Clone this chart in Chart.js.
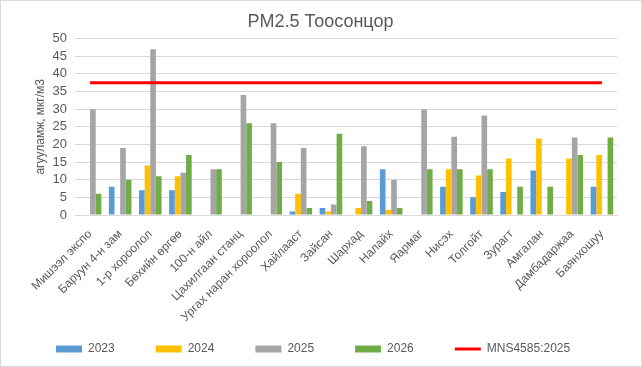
<!DOCTYPE html>
<html>
<head>
<meta charset="utf-8">
<script src="https://cdn.jsdelivr.net/npm/chart.js@4"></script>
<style>
  html, body { margin: 0; padding: 0; background: #fff; }
  #wrap { position: absolute; left: 0; top: 0; width: 642px; height: 367px; box-sizing: border-box; border: 1px solid #d9d9d9; }
  #c { display: block; }
</style>
</head>
<body>
<div id="wrap"><canvas id="c" width="640" height="365"></canvas></div>
<script>
const stations = ['Мишээл экспо', 'Баруун 4-н зам', '1-р хороолол', 'Бөхийн өргөө', '100-н айл', 'Цахилгаан станц',
  'Ургах наран хороолол', 'Хайлааст', 'Зайсан', 'Шархад', 'Налайх', 'Яармаг', 'Нисэх', 'Толгойт', 'Зурагт',
  'Амгалан', 'Дамбадаржаа', 'Баянхошуу'];
const y2023 = [null, 8, 7, 7, null, null, null, 1, 2, null, 13, null, 8, 5, 6.5, 12.6, null, 8];
const y2024 = [null, null, 14, 11, null, null, null, 6, 1, 2, 1.5, null, 13, 11.2, 16, 21.7, 16, 17];
const y2025 = [30, 19, 47, 12, 13, 34, 26, 19, 3, 19.5, 10, 30, 22.2, 28.2, null, null, 22, null];
const y2026 = [6, 10, 11, 17, 13, 26, 15, 2, 23, 4, 2, 13, 13, 13, 8, 8, 17, 22];
const mns = [37.5, 37.5, 37.5, 37.5, 37.5, 37.5, 37.5, 37.5, 37.5, 37.5, 37.5, 37.5, 37.5, 37.5, 37.5, 37.5, 37.5, 37.5];

const txt = '#595959';
const font = '"Liberation Sans", Arial, sans-serif';

function bars(label, data, color) {
  return { type: 'bar', label: label, data: data, backgroundColor: color, borderWidth: 0,
    barPercentage: 1, categoryPercentage: 0.75, pointStyle: 'rect', order: 1 };
}

const chart = new Chart(document.getElementById('c'), {
  data: {
    labels: stations,
    datasets: [
      bars('2023', y2023, '#5B9BD5'),
      bars('2024', y2024, '#FFC000'),
      bars('2025', y2025, '#A5A5A5'),
      bars('2026', y2026, '#70AD47'),
      { type: 'line', label: 'MNS4585:2025', data: mns, borderColor: '#FF0000', backgroundColor: '#FF0000',
        borderWidth: 3, pointRadius: 0, pointStyle: 'line', order: 0 }
    ]
  },
  options: {
    responsive: false,
    animation: false,
    layout: { padding: { left: 14, right: 15, top: 0, bottom: 1 } },
    scales: {
      x: {
        grid: { display: false },
        border: { color: '#d9d9d9' },
        ticks: { color: txt, font: { family: font, size: 12 }, minRotation: 45, maxRotation: 45, padding: 4, autoSkip: false },
        afterFit: function (s) {
          s.height = 87;
          // long rotated names run below the axis box, don't cut them off
          s._computeLabelArea = function () { return undefined; };
        }
      },
      y: {
        min: 0, max: 50,
        grid: { color: '#d9d9d9', drawTicks: false },
        border: { display: false },
        ticks: { stepSize: 5, autoSkip: false, color: txt, font: { family: font, size: 13 }, padding: 8 },
        title: { display: true, text: 'агууламж, мкг/м3', color: txt, font: { family: font, size: 12 }, padding: { top: 18, bottom: 0 } },
        afterFit: function (s) { s.width = 60; }
      },
      // empty right-hand box, only keeps the plot clear of the right edge
      yRight: {
        position: 'right', display: true,
        grid: { display: false }, border: { display: false }, ticks: { display: false },
        afterFit: function (s) { s.width = 9; }
      }
    },
    plugins: {
      title: { display: true, text: 'PM2.5 Тоосонцор', color: txt, font: { family: font, size: 18, weight: 'normal' },
        padding: { top: 10, bottom: 6 } },
      legend: {
        position: 'bottom', align: 'start',
        labels: {
          usePointStyle: true, pointStyleWidth: 26, boxHeight: 7, padding: 41, color: txt,
          font: { family: font, size: 12 },
          sort: function (a, b) { return a.datasetIndex - b.datasetIndex; }
        }
      },
      tooltip: { enabled: false }
    }
  }
});
</script>
</body>
</html>
